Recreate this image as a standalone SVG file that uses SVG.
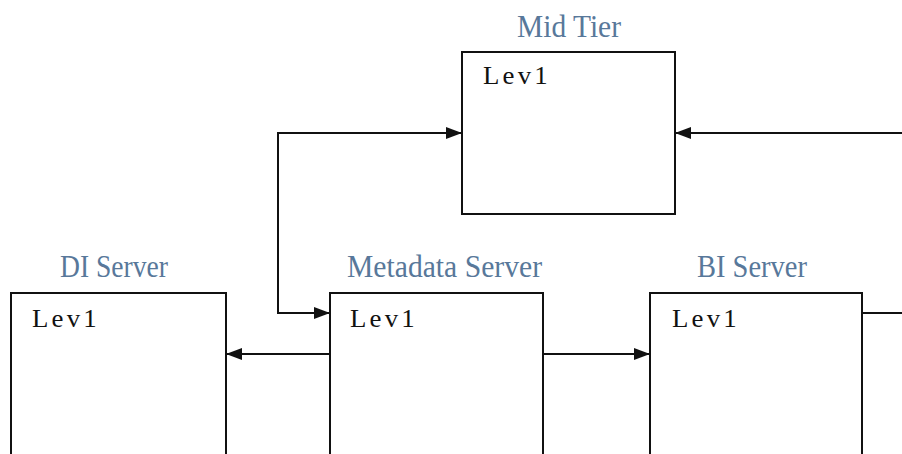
<svg xmlns="http://www.w3.org/2000/svg" width="902" height="454" viewBox="0 0 902 454">
<style>
.box{fill:#fff;stroke:#111;stroke-width:2}
.lbl{font-family:"Liberation Serif",serif;font-size:31px;fill:#58789a}
.lev{font-family:"Liberation Serif",serif;font-size:25px;fill:#111;letter-spacing:3px}
.conn{fill:none;stroke:#111;stroke-width:2}
</style>
<defs>
<marker id="arr" viewBox="0 0 16 12" refX="16" refY="6" markerWidth="16" markerHeight="12" markerUnits="userSpaceOnUse" orient="auto">
<path d="M0,0 L16,6 L0,12 Z" fill="#111"/>
</marker>
</defs>
<rect width="902" height="454" fill="#fff"/>
<g id="connectors">
<path class="conn" d="M330,313 H278 V133 H462" marker-end="url(#arr)"/>
<path class="conn" d="M278,313 H330" marker-end="url(#arr)"/>
<path class="conn" d="M862,313 H902"/>
<path class="conn" d="M902,133 H675" marker-end="url(#arr)"/>
<path class="conn" d="M330,354 H226" marker-end="url(#arr)"/>
<path class="conn" d="M543,354 H650" marker-end="url(#arr)"/>
</g>
<g id="midtier">
<text class="lbl" x="517" y="37" textLength="104" lengthAdjust="spacingAndGlyphs">Mid Tier</text>
<rect class="box" x="462" y="52" width="213" height="162"/>
<text class="lev" x="483" y="84" textLength="68" lengthAdjust="spacingAndGlyphs">Lev1</text>
</g>
<g id="diserver">
<text class="lbl" x="60" y="277" textLength="108" lengthAdjust="spacingAndGlyphs">DI Server</text>
<rect class="box" x="11" y="293" width="215" height="180"/>
<text class="lev" x="32" y="327" textLength="68" lengthAdjust="spacingAndGlyphs">Lev1</text>
</g>
<g id="metadataserver">
<text class="lbl" x="347" y="277" textLength="195" lengthAdjust="spacingAndGlyphs">Metadata Server</text>
<rect class="box" x="330" y="293" width="213" height="180"/>
<text class="lev" x="350" y="327" textLength="68" lengthAdjust="spacingAndGlyphs">Lev1</text>
</g>
<g id="biserver">
<text class="lbl" x="697" y="277" textLength="110" lengthAdjust="spacingAndGlyphs">BI Server</text>
<rect class="box" x="650" y="293" width="212" height="180"/>
<text class="lev" x="672" y="327" textLength="68" lengthAdjust="spacingAndGlyphs">Lev1</text>
</g>
</svg>
